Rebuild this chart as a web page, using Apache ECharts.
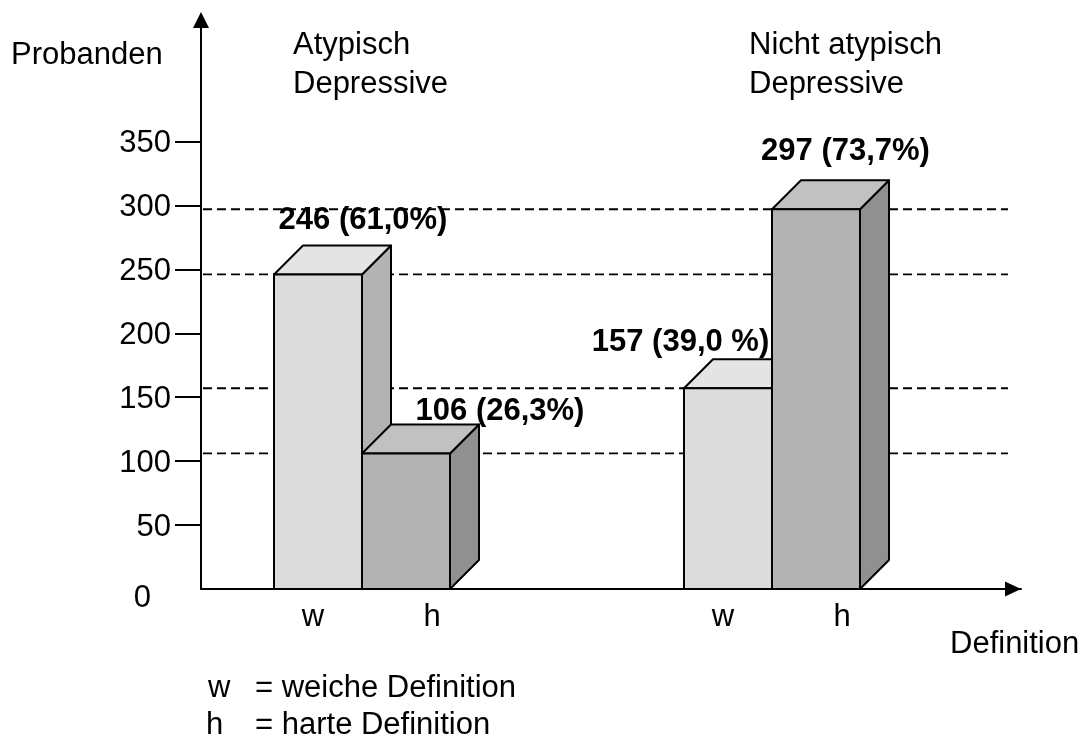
<!DOCTYPE html>
<html><head><meta charset="utf-8">
<script src="https://cdn.jsdelivr.net/npm/echarts@6/dist/echarts.min.js"></script>
<style>html,body{margin:0;padding:0;background:#fff}#c{width:1085px;height:738px}</style>
</head><body><div id="c"></div>
<script>
// ---- data ----
const groups = ['Atypisch\nDepressive', 'Nicht atypisch\nDepressive'];
const defKeys = ['w', 'h'];
const defNames = ['weiche Definition', 'harte Definition'];
const weich = [246, 157];
const hart = [106, 297];
const weichPct = ['61,0%', '39,0 %'];
const hartPct = ['26,3%', '73,7%'];
const yTicks = [0, 50, 100, 150, 200, 250, 300, 350];
const yName = 'Probanden';
const xName = 'Definition';

// ---- layout / style ----
const FONT = "'Liberation Sans', Arial, Helvetica, sans-serif";
const FS = 31;
const BAR_W = 88, DEPTH = 29;
const STYLE = {
  w: {shift: -88, front: '#dcdcdc', top: '#e4e4e4', side: '#b3b3b3', keyDx: -5, labels: [[45, 53.5], [-47.5, 46]]},
  h: {shift: 0, front: '#b3b3b3', top: '#c1c1c1', side: '#909090', keyDx: 26, labels: [[94, 42.5], [29.5, 58]]}
};

function barRenderer(key, pcts) {
  const st = STYLE[key];
  return function (params, api) {
    const i = api.value(0), v = api.value(1);
    const top = api.coord([i, v]);
    const base = api.coord([i, 0]);
    const cx = top[0] + st.shift;
    const x0 = cx - BAR_W / 2, x1 = cx + BAR_W / 2, yT = top[1], yB = base[1];
    const lw = 2, stroke = '#000';
    const lo = st.labels[i];
    return {
      type: 'group',
      children: [
        {type: 'polygon', shape: {points: [[x1, yT], [x1 + DEPTH, yT - DEPTH], [x1 + DEPTH, yB - DEPTH], [x1, yB]]},
          style: {fill: st.side, stroke: stroke, lineWidth: lw, lineJoin: 'round'}},
        {type: 'polygon', shape: {points: [[x0, yT], [x1, yT], [x1 + DEPTH, yT - DEPTH], [x0 + DEPTH, yT - DEPTH]]},
          style: {fill: st.top, stroke: stroke, lineWidth: lw, lineJoin: 'round'}},
        {type: 'rect', shape: {x: x0, y: yT, width: BAR_W, height: yB - yT},
          style: {fill: st.front, stroke: stroke, lineWidth: lw}},
        {type: 'text', x: cx + lo[0], y: yT - lo[1],
          style: {text: v + ' (' + pcts[i] + ')', fontSize: FS, fontWeight: 'bold', fontFamily: FONT,
            fill: '#000', align: 'center', verticalAlign: 'middle'}},
        {type: 'text', x: cx + st.keyDx, y: yB + 28,
          style: {text: key, fontSize: FS, fontFamily: FONT, fill: '#000', align: 'center', verticalAlign: 'middle'}}
      ]
    };
  };
}

function guideRenderer(params, api) {
  const y = api.coord([0, api.value(1)])[1];
  const cs = params.coordSys;
  return {type: 'line', shape: {x1: cs.x + 2, y1: y, x2: cs.x + cs.width - 13, y2: y},
    style: {stroke: '#000', lineWidth: 1.8, lineDash: [9, 5]}};
}

const txt = (s) => Object.assign({fontSize: FS, fontFamily: FONT, fill: '#000'}, s);

const chart = echarts.init(document.getElementById('c'), null, {renderer: 'canvas'});
chart.setOption({
  animation: false,
  backgroundColor: '#fff',
  grid: {left: 201, top: 20, width: 820, height: 569, containLabel: false},
  xAxis: {
    type: 'category', data: groups, boundaryGap: true,
    axisLine: {show: true, lineStyle: {color: '#000', width: 2}, symbol: ['none', 'triangle'], symbolSize: [15, 16], symbolOffset: [0, -8]},
    axisTick: {show: false}, axisLabel: {show: false}, splitLine: {show: false}
  },
  yAxis: {
    type: 'value', min: 0, max: 445, interval: 50,
    axisLine: {show: true, lineStyle: {color: '#000', width: 2}, symbol: ['none', 'triangle'], symbolSize: [16, 16]},
    axisTick: {show: true, length: 26, customValues: yTicks.filter(v => v > 0), lineStyle: {color: '#000', width: 2}},
    axisLabel: {
      customValues: yTicks, margin: 30, fontSize: FS, fontFamily: FONT, color: '#000',
      formatter: v => v === 0 ? '{z|' + v + '}' : '{n|' + v + '}',
      rich: {
        z: {fontSize: FS, fontFamily: FONT, color: '#000', padding: [18, 20, 0, 0]},
        n: {fontSize: FS, fontFamily: FONT, color: '#000', padding: [4, 0, 0, 0]}
      }
    },
    splitLine: {show: false}
  },
  series: [
    {type: 'custom', name: 'guides', z: 1, renderItem: guideRenderer,
      data: weich.concat(hart).map(v => [0, v]), silent: true},
    {type: 'custom', name: defKeys[0], z: 3, renderItem: barRenderer(defKeys[0], weichPct),
      data: weich.map((v, i) => [i, v])},
    {type: 'custom', name: defKeys[1], z: 4, renderItem: barRenderer(defKeys[1], hartPct),
      data: hart.map((v, i) => [i, v])}
  ],
  graphic: [
    {type: 'text', left: 11, top: 55 - FS / 2, style: txt({text: yName})},
    {type: 'text', x: 293, y: 25.5, style: txt({text: groups[0], lineHeight: 39, verticalAlign: 'top'})},
    {type: 'text', x: 749, y: 25.5, style: txt({text: groups[1], lineHeight: 39, verticalAlign: 'top'})},
    {type: 'text', x: 950, y: 644, style: txt({text: xName, verticalAlign: 'middle'})},
    {type: 'text', x: 208, y: 688.5, style: txt({text: defKeys[0], verticalAlign: 'middle'})},
    {type: 'text', x: 255, y: 688.5, style: txt({text: '= ' + defNames[0], verticalAlign: 'middle'})},
    {type: 'text', x: 206, y: 725.5, style: txt({text: defKeys[1], verticalAlign: 'middle'})},
    {type: 'text', x: 255, y: 725.5, style: txt({text: '= ' + defNames[1], verticalAlign: 'middle'})}
  ]
});
</script>
</body></html>
